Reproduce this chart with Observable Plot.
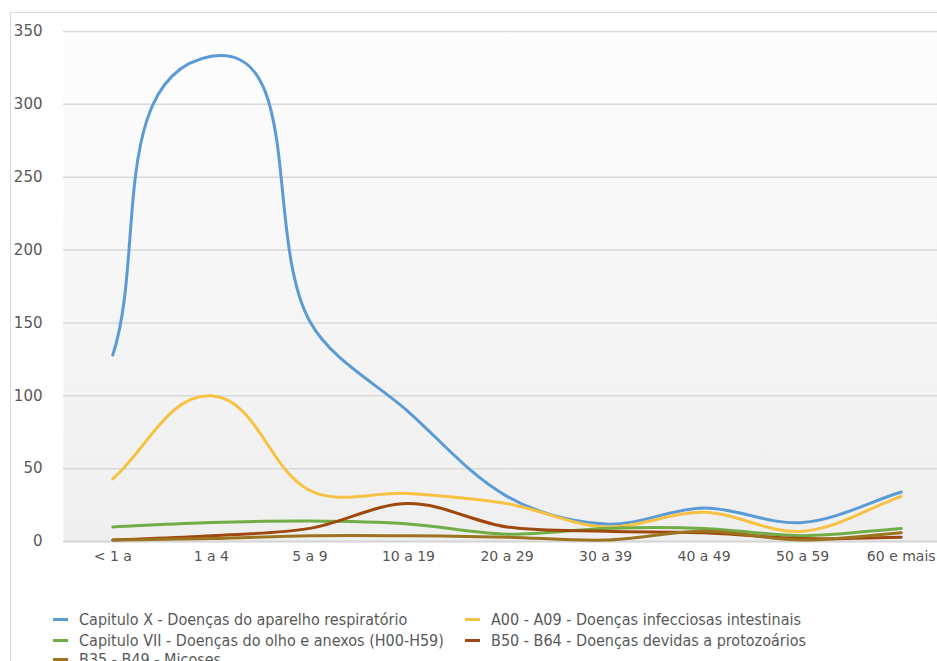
<!DOCTYPE html>
<html>
<head>
<meta charset="utf-8">
<script src="https://cdn.jsdelivr.net/npm/d3@7"></script>
<script src="https://cdn.jsdelivr.net/npm/@observablehq/plot@0.6"></script>
<style>
  body { margin: 0; background: #fff; }
  #wrap { position: relative; width: 937px; height: 661px; overflow: hidden; background: #fff; }
  #border { position: absolute; left: 10px; top: 12px; width: 1000px; height: 700px;
            border-left: 1px solid #d9d9d9; border-top: 1px solid #d9d9d9; }
  #chart { position: absolute; left: 0; top: 0; }
  #legend { position: absolute; left: 0; top: 0; width: 937px; height: 661px;
            font-family: "DejaVu Sans Condensed", "DejaVu Sans", sans-serif; font-size: 16px; color: #595959; }
  .item { position: absolute; white-space: nowrap; display: flex; align-items: center; height: 20px; }
  .sw { display: inline-block; width: 15px; height: 3px; margin-right: 11px; }
</style>
</head>
<body>
<div id="wrap">
  <div id="border"></div>
  <div id="chart"></div>
  <div id="legend"></div>
</div>
<script>
// Faixas etárias (eixo X)
const categories = ["< 1 a", "1 a 4", "5 a 9", "10 a 19", "20 a 29", "30 a 39", "40 a 49", "50 a 59", "60 e mais"];

// Séries por grupo de doenças
const seriesNames = [
  "Capitulo X - Doenças do aparelho respiratório",
  "A00 - A09 - Doenças infecciosas intestinais",
  "Capitulo VII - Doenças do olho e anexos (H00-H59)",
  "B50 - B64 - Doenças devidas a protozoários",
  "B35 - B49 - Micoses"
];
const seriesColors = ["#5b9bd5", "#f7c142", "#70ad47", "#9e480e", "#9c7420"];

const respiratorio = [128, 333, 151, 89, 31, 12, 23, 13, 34];
const intestinais  = [43, 100, 35, 33, 26, 10, 20, 7, 31];
const olho         = [10, 13, 14, 12, 5, 9, 9, 4, 9];
const protozoarios = [1, 4, 9, 26, 10, 7, 6, 2, 3];
const micoses      = [1, 2, 4, 4, 3, 1, 7, 1, 6];

const yTicks = [0, 50, 100, 150, 200, 250, 300, 350];

const seriesValues = [respiratorio, intestinais, olho, protozoarios, micoses];
const rows = seriesValues.flatMap((vals, s) =>
  vals.map((v, i) => ({serie: seriesNames[s], faixa: categories[i], valor: v})));

// Suavização de linha: curvas de Bézier cujas tangentes seguem a direção
// entre os vizinhos, com comprimento proporcional ao segmento.
function smoothLine(context) {
  let pts = [];
  return {
    areaStart() {}, areaEnd() {},
    lineStart() { pts = []; },
    point(x, y) { pts.push([+x, +y]); },
    lineEnd() {
      const n = pts.length;
      if (!n) return;
      context.moveTo(pts[0][0], pts[0][1]);
      for (let i = 0; i < n - 1; i++) {
        const p0 = pts[Math.max(i - 1, 0)], p1 = pts[i], p2 = pts[i + 1], p3 = pts[Math.min(i + 2, n - 1)];
        const d = Math.hypot(p2[0] - p1[0], p2[1] - p1[1]) / 3;
        const ax = p2[0] - p0[0], ay = p2[1] - p0[1], la = Math.hypot(ax, ay) || 1;
        const bx = p3[0] - p1[0], by = p3[1] - p1[1], lb = Math.hypot(bx, by) || 1;
        context.bezierCurveTo(
          p1[0] + ax / la * d, p1[1] + ay / la * d,
          p2[0] - bx / lb * d, p2[1] - by / lb * d,
          p2[0], p2[1]);
      }
    }
  };
}

const chart = Plot.plot({
  width: 950,
  height: 575,
  marginTop: 31,
  marginBottom: 34,
  marginLeft: 63,
  marginRight: 0,
  style: {fontFamily: "DejaVu Sans, sans-serif", fontSize: "15px", color: "#595959", background: "transparent", maxWidth: "none"},
  x: {type: "point", domain: categories, padding: 0.5, round: false},
  y: {domain: [0, 350]},
  color: {domain: seriesNames, range: seriesColors},
  marks: [
    Plot.frame({fill: "url(#plotbg)", stroke: null}),
    Plot.gridY(yTicks, {stroke: "#d9d9d9", strokeOpacity: 1, strokeWidth: 1.5}),
    Plot.ruleY([0], {stroke: "#d6d6d6", strokeWidth: 2}),
    Plot.axisY(yTicks, {tickSize: 0, tickPadding: 21, fontSize: 15, label: null, fill: "#595959"}),
    Plot.axisX({tickSize: 0, tickPadding: 10, fontSize: 14, label: null, fill: "#555555"}),
    Plot.line(rows, {x: "faixa", y: "valor", z: "serie", stroke: "serie",
                     strokeWidth: 3, curve: smoothLine, strokeLinecap: "round"})
  ]
});

// gradiente de fundo da área de plotagem
const ns = "http://www.w3.org/2000/svg";
const defs = document.createElementNS(ns, "defs");
defs.innerHTML = `<linearGradient id="plotbg" x1="0" y1="0" x2="0" y2="1">
  <stop offset="0" stop-color="#fdfdfd"/><stop offset="1" stop-color="#efefef"/></linearGradient>`;
chart.insertBefore(defs, chart.firstChild);
document.getElementById("chart").appendChild(chart);

// legenda
const legend = document.getElementById("legend");
const colX = [53, 465];
const rowY = [609, 630, 649];
seriesNames.forEach((name, i) => {
  const item = document.createElement("div");
  item.className = "item";
  item.style.left = colX[i % 2] + "px";
  item.style.top = rowY[Math.floor(i / 2)] + "px";
  const sw = document.createElement("span");
  sw.className = "sw";
  sw.style.background = seriesColors[i];
  item.appendChild(sw);
  item.appendChild(document.createTextNode(name));
  legend.appendChild(item);
});
</script>
</body>
</html>
